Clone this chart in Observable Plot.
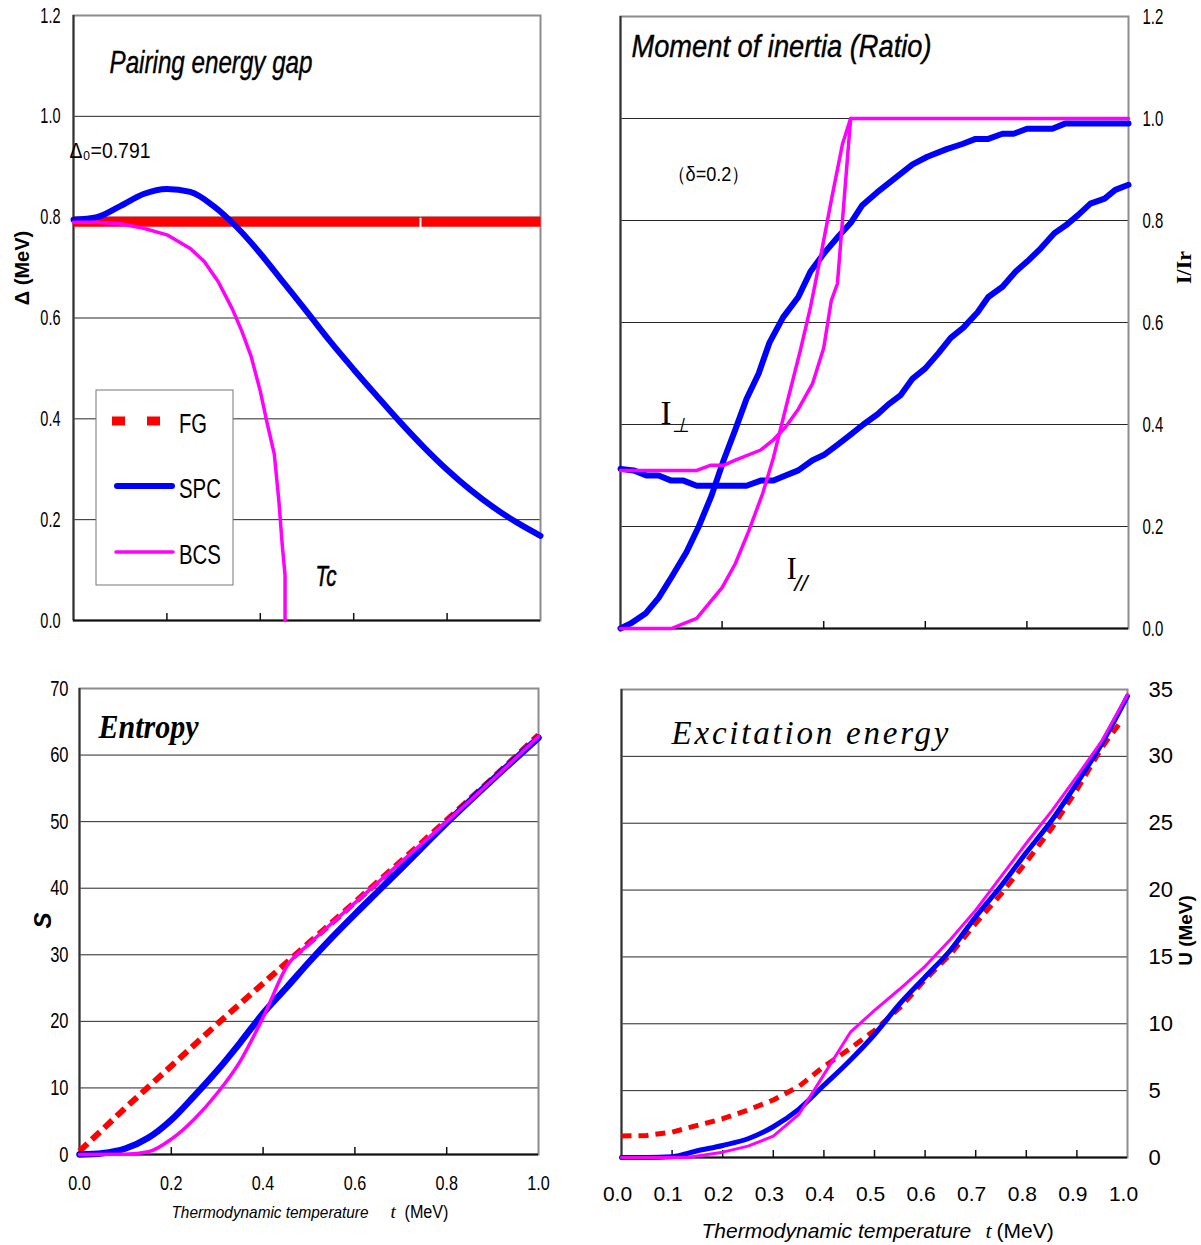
<!DOCTYPE html>
<html>
<head>
<meta charset="utf-8">
<script src="https://cdn.jsdelivr.net/npm/d3@7"></script>
<script src="https://cdn.jsdelivr.net/npm/@observablehq/plot@0.6"></script>
<style>
html,body{margin:0;padding:0;background:#fff;}
#wrap{position:relative;width:1201px;height:1245px;background:#fff;overflow:hidden;}
#wrap > svg{position:absolute;}
</style>
</head>
<body>
<div id="wrap"></div>
<script>
// ---------------- DATA ----------------
// Pairing energy gap (top-left)
const gapFG_T  = [0, 1.0];
const gapFG    = [0.791, 0.791];
const gapSPC_T = [0,0.05,0.1,0.15,0.2,0.25,0.3,0.35,0.4,0.45,0.5,0.55,0.6,0.65,0.7,0.75,0.8,0.85,0.9,0.95,1.0];
const gapSPC   = [0.795,0.800,0.822,0.846,0.856,0.850,0.822,0.780,0.728,0.670,0.612,0.553,0.498,0.445,0.393,0.344,0.299,0.259,0.224,0.194,0.168];
const gapBCS_T = [0,0.05,0.1,0.15,0.2,0.25,0.28,0.31,0.34,0.36,0.38,0.40,0.415,0.43,0.44,0.447,0.453,0.453];
const gapBCS   = [0.790,0.790,0.787,0.778,0.765,0.738,0.712,0.672,0.618,0.575,0.525,0.455,0.39,0.33,0.235,0.15,0.09,0.0];
const gapYTicks = [0,0.2,0.4,0.6,0.8,1.0,1.2];
const gapGrid   = [0.2,0.4,0.6,0.8,1.0];
const gapXTicks = [0.2,0.4,0.6,0.8];

// Moment of inertia ratio (top-right)
const momParSPC_T = [0,0.02,0.05,0.075,0.1,0.13,0.154,0.179,0.203,0.226,0.248,0.272,0.293,0.32,0.35,0.374,0.4,0.43,0.453,0.476,0.505,0.543,0.575,0.604,0.642,0.673,0.699,0.724,0.752,0.774,0.8,0.85,0.875,1.0];
const momParSPC   = [0,0.01,0.03,0.06,0.10,0.15,0.20,0.26,0.33,0.39,0.45,0.50,0.56,0.61,0.65,0.70,0.735,0.77,0.795,0.83,0.855,0.885,0.91,0.925,0.94,0.95,0.96,0.96,0.97,0.97,0.98,0.98,0.99,0.99];
const momPerpSPC_T = [0,0.026,0.051,0.075,0.1,0.124,0.15,0.248,0.276,0.301,0.325,0.35,0.378,0.4,0.427,0.453,0.478,0.506,0.528,0.551,0.575,0.6,0.626,0.65,0.675,0.703,0.724,0.752,0.778,0.801,0.827,0.854,0.876,0.9,0.925,0.953,0.974,1.0];
const momPerpSPC   = [0.313,0.31,0.30,0.30,0.29,0.29,0.28,0.28,0.29,0.29,0.30,0.31,0.33,0.34,0.36,0.38,0.40,0.42,0.44,0.457,0.49,0.51,0.54,0.57,0.59,0.62,0.65,0.67,0.70,0.72,0.745,0.775,0.79,0.81,0.833,0.843,0.86,0.87];
const momPerpBCS_T = [0,0.15,0.177,0.203,0.226,0.276,0.301,0.325,0.35,0.378,0.4,0.415,0.427,0.453,1.0];
const momPerpBCS   = [0.31,0.31,0.32,0.32,0.33,0.35,0.37,0.395,0.43,0.48,0.55,0.643,0.676,1.0,1.0];
const momParBCS_T = [0,0.1,0.15,0.2,0.226,0.252,0.28,0.301,0.329,0.354,0.374,0.396,0.415,0.437,0.453];
const momParBCS   = [0,0,0.02,0.08,0.127,0.19,0.265,0.335,0.447,0.545,0.63,0.74,0.84,0.95,1.0];
const momYTicks = [0,0.2,0.4,0.6,0.8,1.0,1.2];
const momGrid   = [0.2,0.4,0.6,0.8,1.0];
const momXTicks = [0.2,0.4,0.6,0.8];

// Entropy (bottom-left)
const entFG_T  = [0,0.1,0.2,0.3,0.4,0.5,0.6,0.7,0.8,0.9,1.0];
const entFG    = [0.5,7.0,13.3,19.6,25.7,31.8,37.9,44.0,50.2,56.5,63.0];
const entSPC_T = [0,0.05,0.1,0.15,0.2,0.25,0.3,0.35,0.4,0.45,0.5,0.55,0.6,0.65,0.7,0.8,0.9,1.0];
const entSPC   = [0,0.2,0.9,2.5,5.2,8.8,12.6,16.8,21.2,25.0,28.9,32.6,36.1,39.5,42.9,49.8,56.3,62.6];
const entBCS_T = [0,0.1,0.15,0.2,0.25,0.3,0.35,0.4,0.453,0.5,0.6,0.7,0.8,0.9,1.0];
const entBCS   = [0,0.05,0.4,2.3,5.3,9.2,14.0,20.6,28.4,31.6,37.8,43.9,50.0,56.3,62.8];
const entYTicks = [0,10,20,30,40,50,60,70];
const entGrid   = [10,20,30,40,50,60];
const entXTicks = [0,0.2,0.4,0.6,0.8,1.0];
const entInTicks = [0.2,0.4,0.6,0.8];

// Excitation energy (bottom-right)
const excFG_T  = [0,0.05,0.1,0.15,0.2,0.25,0.3,0.35,0.4,0.45,0.5,0.55,0.6,0.65,0.7,0.75,0.8,0.85,0.9,0.95,0.985];
const excFG    = [1.6,1.65,1.9,2.4,2.9,3.55,4.3,5.3,6.8,8.1,9.5,11.2,13.3,15.2,17.5,19.7,22.1,24.6,27.5,30.7,32.5];
const excSPC_T = [0,0.05,0.1,0.15,0.2,0.25,0.3,0.35,0.4,0.45,0.5,0.55,0.6,0.65,0.7,0.75,0.8,0.85,0.9,0.95,1.0];
const excSPC   = [0,0,0.06,0.5,0.9,1.4,2.3,3.6,5.4,7.2,9.2,11.5,13.5,15.5,18.0,20.3,22.8,25.2,28.0,31.0,34.5];
const excBCS_T = [0,0.1,0.13,0.2,0.25,0.3,0.35,0.4,0.453,0.5,0.55,0.6,0.65,0.7,0.75,0.8,0.85,0.9,0.95,1.0];
const excBCS   = [0,0,0,0.4,0.85,1.6,3.2,6.2,9.4,11.0,12.6,14.3,16.3,18.5,21.0,23.5,25.9,28.5,31.2,34.6];
const excYTicks = [0,5,10,15,20,25,30,35];
const excGrid   = [5,10,15,20,25,30];
const excXTicks = [0,0.1,0.2,0.3,0.4,0.5,0.6,0.7,0.8,0.9,1.0];
const excInTicks = [0.1,0.2,0.3,0.4,0.5,0.6,0.7,0.8,0.9];

const legendNames = ["FG","SPC","BCS"];

// ---------------- STYLE ----------------
const RED = "#ff0000", BLUE = "#0000ff", MAG = "#ff00ff";
const SANS = '"Liberation Sans",Arial,sans-serif';
const SERIF = '"Liberation Serif","Times New Roman",serif';
const GRID = {stroke: "#000", strokeOpacity: 0.85, strokeWidth: 1};
const FRAME = {stroke: "#8c8c8c", strokeWidth: 2};
const fmt1 = d3.format(".1f"), fmt0 = d3.format("d");
const rows = (T, V) => T.map((t, i) => ({t, v: V[i]}));
const lbl = s => [s];
const wrap = document.getElementById("wrap");
const YTL = "y-axis tick label", XTL = "x-axis tick label";

function squeeze(sel, k) {
  sel.each(function () {
    const t = this.getAttribute("transform") || "";
    this.setAttribute("transform", t + ` scale(${k},1)`);
  });
}
// byText: {textContent: {attr: value}}, byGroup: {ariaLabel: scaleX}
function place(svg, left, top, byText, byGroup) {
  svg.style.left = left + "px";
  svg.style.top = top + "px";
  const s = d3.select(svg);
  for (const [content, attrs] of Object.entries(byText || {})) {
    const sel = s.selectAll("text").filter(function () { return this.textContent === content; });
    for (const [k, v] of Object.entries(attrs)) sel.attr(k, v);
  }
  for (const [label, k] of Object.entries(byGroup || {})) {
    squeeze(s.selectAll(`g[aria-label="${label}"] text`), k);
  }
  wrap.appendChild(svg);
}
const fit = (len, adj = "spacingAndGlyphs") => ({textLength: len, lengthAdjust: adj});

// ---------------- TOP-LEFT: pairing gap ----------------
const tl = Plot.plot({
  width: 600, height: 640,
  marginLeft: 73, marginRight: 60, marginTop: 15, marginBottom: 20,
  x: {domain: [0, 1], axis: null},
  y: {domain: [0, 1.2], axis: null},
  style: {background: "transparent", color: "#000", fontFamily: SANS, fontSize: "22px", overflow: "visible"},
  marks: [
    Plot.gridY(gapGrid, GRID),
    Plot.frame(FRAME),
    Plot.ruleX([0], {stroke: "#333", strokeWidth: 2}),
    Plot.ruleY([0], {stroke: "#111", strokeWidth: 2}),
    Plot.tickX(gapXTicks, {x: d => d, insetTop: 598, stroke: "#111", strokeWidth: 1.5}),
    Plot.axisY(gapYTicks, {anchor: "left", tickSize: 0, tickPadding: 13, tickFormat: fmt1, label: null}),
    Plot.line(rows(gapFG_T, gapFG), {x: "t", y: "v", stroke: RED, strokeWidth: 10, strokeLinecap: "butt", strokeDasharray: "346 2"}),
    Plot.line(rows(gapSPC_T, gapSPC), {x: "t", y: "v", stroke: BLUE, strokeWidth: 6, curve: "monotone-x"}),
    Plot.line(rows(gapBCS_T, gapBCS), {x: "t", y: "v", stroke: MAG, strokeWidth: 3.5}),
    Plot.text(lbl("Pairing energy gap"), {text: d => d, frameAnchor: "top-left", dx: 36, dy: 57, lineAnchor: "bottom", textAnchor: "start", fontSize: 32, fontStyle: "italic"}),
    Plot.text(lbl("Δ₀=0.791"), {text: d => d, frameAnchor: "top-left", dx: -4, dy: 142, lineAnchor: "bottom", textAnchor: "start", fontSize: 22}),
    Plot.text(lbl("Tc"), {text: d => d, frameAnchor: "top-left", dx: 242, dy: 570, lineAnchor: "bottom", textAnchor: "start", fontSize: 29, fontStyle: "italic"}),
    Plot.text(lbl("Δ (MeV)"), {text: d => d, frameAnchor: "left", dx: -51, dy: -50, rotate: -90, textAnchor: "middle", lineAnchor: "middle", fontFamily: SANS, fontWeight: "bold", fontSize: 20})
  ]
});
place(tl, 0, 0,
  {"Pairing energy gap": {...fit(203), "stroke": "#000", "stroke-width": 0.4}, "Tc": {...fit(21), "stroke": "#000", "stroke-width": 0.6}, "Δ₀=0.791": fit(81)},
  {[YTL]: 0.66});

// legend
const lg = d3.create("svg").attr("width", 140).attr("height", 198).style("left", "95px").style("top", "389px");
lg.append("rect").attr("x", 1).attr("y", 1).attr("width", 137).attr("height", 195).attr("fill", "#fff").attr("stroke", "#777").attr("stroke-width", 1);
const lgStyles = [
  {stroke: RED, width: 9, dash: "13 22", cap: "butt", x1: 17, x2: 65, y: 32, len: 28},
  {stroke: BLUE, width: 6, dash: null, cap: "round", x1: 22, x2: 77, y: 97, len: 42},
  {stroke: MAG, width: 3.5, dash: null, cap: "round", x1: 21, x2: 78, y: 163, len: 42}
];
legendNames.forEach((name, i) => {
  const s = lgStyles[i];
  lg.append("line").attr("x1", s.x1).attr("x2", s.x2).attr("y1", s.y).attr("y2", s.y)
    .attr("stroke", s.stroke).attr("stroke-width", s.width).attr("stroke-linecap", s.cap)
    .attr("stroke-dasharray", s.dash);
  lg.append("text").attr("x", 84).attr("y", s.y + 12).attr("font-family", SANS).attr("font-size", 27)
    .attr("textLength", s.len).attr("lengthAdjust", "spacingAndGlyphs").text(name);
});
wrap.appendChild(lg.node());

// ---------------- TOP-RIGHT: moment of inertia ----------------
const tr = Plot.plot({
  width: 601, height: 640,
  marginLeft: 20, marginRight: 73, marginTop: 16, marginBottom: 12,
  x: {domain: [0, 1], axis: null},
  y: {domain: [0, 1.2], axis: null},
  style: {background: "transparent", color: "#000", fontFamily: SANS, fontSize: "22px", overflow: "visible"},
  marks: [
    Plot.gridY(momGrid, GRID),
    Plot.frame(FRAME),
    Plot.ruleX([0], {stroke: "#333", strokeWidth: 2}),
    Plot.ruleY([0], {stroke: "#111", strokeWidth: 2}),
    Plot.tickX(momXTicks, {x: d => d, insetTop: 605, stroke: "#111", strokeWidth: 1.5}),
    Plot.axisY(momYTicks, {anchor: "right", tickSize: 0, tickPadding: 14, tickFormat: fmt1, label: null}),
    Plot.line(rows(momParSPC_T, momParSPC), {x: "t", y: "v", stroke: BLUE, strokeWidth: 6}),
    Plot.line(rows(momPerpSPC_T, momPerpSPC), {x: "t", y: "v", stroke: BLUE, strokeWidth: 6}),
    Plot.line(rows(momPerpBCS_T, momPerpBCS), {x: "t", y: "v", stroke: MAG, strokeWidth: 3.5}),
    Plot.line(rows(momParBCS_T, momParBCS), {x: "t", y: "v", stroke: MAG, strokeWidth: 3.5}),
    Plot.text(lbl("Moment of inertia (Ratio)"), {text: d => d, frameAnchor: "top-left", dx: 11, dy: 40, lineAnchor: "bottom", textAnchor: "start", fontSize: 32, fontStyle: "italic"}),
    Plot.text(lbl("（δ=0.2）"), {text: d => d, frameAnchor: "top-left", dx: 47, dy: 164, lineAnchor: "bottom", textAnchor: "start", fontSize: 20}),
    Plot.text(lbl("I"), {text: d => d, frameAnchor: "top-left", dx: 40, dy: 407, lineAnchor: "bottom", textAnchor: "start", fontSize: 33, fontFamily: SERIF}),
    Plot.text(lbl("⊥"), {text: d => d, frameAnchor: "top-left", dx: 51, dy: 415, lineAnchor: "bottom", textAnchor: "start", fontSize: 20, fontStyle: "italic", fontFamily: SANS}),
    Plot.text(lbl("I"), {text: d => d, frameAnchor: "top-left", dx: 166, dy: 562, lineAnchor: "bottom", textAnchor: "start", fontSize: 31, fontFamily: SERIF}),
    Plot.text(lbl("//"), {text: d => d, frameAnchor: "top-left", dx: 174, dy: 574, lineAnchor: "bottom", textAnchor: "start", fontSize: 22, fontStyle: "italic"}),
    Plot.text(lbl("I/Ir"), {text: d => d, frameAnchor: "right", dx: 55, dy: -55, rotate: -90, textAnchor: "middle", lineAnchor: "middle", fontFamily: SERIF, fontWeight: "bold", fontSize: 22})
  ]
});
place(tr, 600, 0,
  {"Moment of inertia (Ratio)": {...fit(300), "stroke": "#000", "stroke-width": 0.4}, "//": fit(13), "（δ=0.2）": fit(82)},
  {[YTL]: 0.68});

// ---------------- BOTTOM-LEFT: entropy ----------------
const bl = Plot.plot({
  width: 600, height: 605,
  marginLeft: 79, marginRight: 62, marginTop: 48, marginBottom: 91,
  x: {domain: [0, 1], axis: null},
  y: {domain: [0, 70], axis: null},
  style: {background: "transparent", color: "#000", fontFamily: SANS, fontSize: "20px", overflow: "visible"},
  marks: [
    Plot.gridY(entGrid, GRID),
    Plot.frame(FRAME),
    Plot.ruleX([0], {stroke: "#333", strokeWidth: 2}),
    Plot.ruleY([0], {stroke: "#111", strokeWidth: 2}),
    Plot.tickX(entInTicks, {x: d => d, insetTop: 459, stroke: "#111", strokeWidth: 1.5}),
    Plot.axisY(entYTicks, {anchor: "left", tickSize: 0, tickPadding: 11, tickFormat: fmt0, label: null, fontSize: 22}),
    Plot.axisX(entXTicks, {anchor: "bottom", tickSize: 0, tickPadding: 21, tickFormat: fmt1, label: null, fontSize: 21}),
    Plot.line(rows(entFG_T, entFG), {x: "t", y: "v", stroke: RED, strokeWidth: 6, strokeLinecap: "butt", strokeDasharray: "11 6"}),
    Plot.line(rows(entSPC_T, entSPC), {x: "t", y: "v", stroke: BLUE, strokeWidth: 6.5, curve: "monotone-x"}),
    Plot.line(rows(entBCS_T, entBCS), {x: "t", y: "v", stroke: MAG, strokeWidth: 3.5, curve: "monotone-x"}),
    Plot.text(lbl("Entropy"), {text: d => d, frameAnchor: "top-left", dx: 19, dy: 49, lineAnchor: "bottom", textAnchor: "start", fontSize: 33, fontStyle: "italic", fontWeight: "bold", fontFamily: SERIF}),
    Plot.text(lbl("S"), {text: d => d, frameAnchor: "left", dx: -36, dy: -1, rotate: -90, textAnchor: "middle", lineAnchor: "middle", fontFamily: SANS, fontWeight: "bold", fontStyle: "italic", fontSize: 24}),
    Plot.text(lbl("Thermodynamic temperature"), {text: d => d, frameAnchor: "bottom-left", dx: 92, dy: 63, lineAnchor: "bottom", textAnchor: "start", fontSize: 17, fontStyle: "italic"}),
    Plot.text(lbl("t"), {text: d => d, frameAnchor: "bottom-left", dx: 311, dy: 63, lineAnchor: "bottom", textAnchor: "start", fontSize: 19, fontStyle: "italic", fontFamily: SERIF}),
    Plot.text(lbl("(MeV)"), {text: d => d, frameAnchor: "bottom-left", dx: 325, dy: 63, lineAnchor: "bottom", textAnchor: "start", fontSize: 18})
  ]
});
place(bl, 0, 640,
  {"Entropy": fit(100), "Thermodynamic temperature": fit(197), "(MeV)": fit(44)},
  {[YTL]: 0.75, [XTL]: 0.77});

// ---------------- BOTTOM-RIGHT: excitation energy ----------------
const br = Plot.plot({
  width: 601, height: 605,
  marginLeft: 21, marginRight: 74, marginTop: 49, marginBottom: 88,
  x: {domain: [0, 1], axis: null},
  y: {domain: [0, 35], axis: null},
  style: {background: "transparent", color: "#000", fontFamily: SANS, fontSize: "22px", overflow: "visible"},
  marks: [
    Plot.gridY(excGrid, GRID),
    Plot.frame(FRAME),
    Plot.ruleX([0], {stroke: "#333", strokeWidth: 2}),
    Plot.ruleY([0], {stroke: "#111", strokeWidth: 2}),
    Plot.tickX(excInTicks, {x: d => d, insetTop: 461, stroke: "#111", strokeWidth: 1.5}),
    Plot.axisY(excYTicks, {anchor: "right", tickSize: 0, tickPadding: 21, tickFormat: fmt0, label: null, fontSize: 22}),
    Plot.axisX(excXTicks, {anchor: "bottom", tickSize: 0, tickPadding: 29, tickFormat: fmt1, label: null, fontSize: 21, dx: -4}),
    Plot.line(rows(excFG_T, excFG), {x: "t", y: "v", stroke: RED, strokeWidth: 5, strokeLinecap: "butt", strokeDasharray: "10 7"}),
    Plot.line(rows(excSPC_T, excSPC), {x: "t", y: "v", stroke: BLUE, strokeWidth: 5, curve: "monotone-x"}),
    Plot.line(rows(excBCS_T, excBCS), {x: "t", y: "v", stroke: MAG, strokeWidth: 3}),
    Plot.text(lbl("Excitation energy"), {text: d => d, frameAnchor: "top-left", dx: 50, dy: 54, lineAnchor: "bottom", textAnchor: "start", fontSize: 33, fontStyle: "italic", fontFamily: SERIF}),
    Plot.text(lbl("U (MeV)"), {text: d => d, frameAnchor: "right", dx: 58, dy: 7, rotate: -90, textAnchor: "middle", lineAnchor: "middle", fontFamily: SANS, fontWeight: "bold", fontSize: 19}),
    Plot.text(lbl("Thermodynamic temperature"), {text: d => d, frameAnchor: "bottom-left", dx: 80, dy: 80, lineAnchor: "bottom", textAnchor: "start", fontSize: 21, fontStyle: "italic"}),
    Plot.text(lbl("t"), {text: d => d, frameAnchor: "bottom-left", dx: 364, dy: 80, lineAnchor: "bottom", textAnchor: "start", fontSize: 22, fontStyle: "italic", fontFamily: SERIF}),
    Plot.text(lbl("(MeV)"), {text: d => d, frameAnchor: "bottom-left", dx: 375, dy: 80, lineAnchor: "bottom", textAnchor: "start", fontSize: 21})
  ]
});
place(br, 600, 640, {"Excitation energy": fit(277, "spacing")});
</script>
</body>
</html>
